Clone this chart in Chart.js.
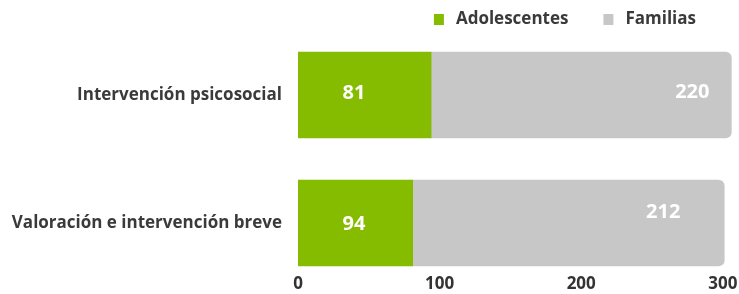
<!DOCTYPE html>
<html>
<head>
<meta charset="utf-8">
<script src="https://cdn.jsdelivr.net/npm/chart.js@4/dist/chart.umd.min.js"></script>
<style>
  html, body { margin: 0; background: #fff; }
</style>
</head>
<body>
<canvas id="chart" width="739" height="294"></canvas>
<script>
const categories = ['Intervención psicosocial', 'Valoración e intervención breve'];
const seriesNames = ['Adolescentes', 'Familias'];
const adolescentes = [94, 81];
const familias = [212, 220];
// printed numbers, as they appear in the original (they don't follow the bar lengths)
const adolescentesLabels = ['81', '94'];
const familiasLabels = ['220', '212'];
const tickValues = [0, 100, 200, 300];

const GREEN = '#85bc00';
const GREY = '#c7c7c7';
const TEXT = '#3a3a3a';
const FONT = 'Open Sans';

Chart.defaults.font.family = FONT;

// numbers written inside the bars
const barLabels = {
  id: 'barLabels',
  afterDatasetsDraw(chart, args, opts) {
    const ctx = chart.ctx;
    ctx.save();
    ctx.font = 'bold 20px ' + FONT;
    ctx.fillStyle = '#fff';
    ctx.textAlign = 'center';
    ctx.textBaseline = 'middle';
    opts.texts.forEach((texts, i) => {
      const nudge = opts.nudge[i];
      chart.getDatasetMeta(i).data.forEach((bar, j) => {
        const x = (nudge.from === 'base' ? bar.base : bar.x) + nudge.dx[j];
        ctx.fillText(texts[j], x, bar.y + nudge.dy[j]);
      });
    });
    ctx.restore();
  }
};

// small legend in the top right
const topLegend = {
  id: 'topLegend',
  afterDraw(chart, args, opts) {
    const ctx = chart.ctx;
    ctx.save();
    ctx.font = 'bold 17px ' + FONT;
    ctx.textBaseline = 'middle';
    const items = chart.data.datasets.map(d => ({ text: d.label, color: d.backgroundColor, w: ctx.measureText(d.label).width }));
    const total = items.reduce((s, it) => s + opts.box + opts.gap + it.w, 0) + opts.spacing * (items.length - 1);
    let x = opts.right - total;
    items.forEach(it => {
      ctx.fillStyle = it.color;
      ctx.fillRect(x, opts.y - opts.box / 2, opts.box, opts.box + 1);
      x += opts.box + opts.gap;
      ctx.fillStyle = TEXT;
      ctx.fillText(it.text, x, opts.y);
      x += it.w + opts.spacing;
    });
    ctx.restore();
  }
};

new Chart(document.getElementById('chart'), {
  type: 'bar',
  data: {
    labels: categories,
    datasets: [
      { label: seriesNames[0], data: adolescentes, backgroundColor: GREEN, barThickness: 86, borderRadius: 0 },
      { label: seriesNames[1], data: familias, backgroundColor: GREY, barThickness: 86, borderRadius: 6, borderSkipped: 'start' }
    ]
  },
  options: {
    indexAxis: 'y',
    responsive: false,
    animation: false,
    layout: { padding: { top: 31, right: 2, left: 0, bottom: 0 } },
    plugins: {
      legend: { display: false },
      tooltip: { enabled: false },
      barLabels: {
        texts: [adolescentesLabels, familiasLabels],
        nudge: [
          { from: 'base', dx: [56, 56], dy: [-2, 1] },
          { from: 'end', dx: [-39, -61], dy: [-3, -11] }
        ]
      },
      topLegend: { right: 696, y: 19, box: 10, gap: 12, spacing: 35 }
    },
    scales: {
      x: {
        stacked: true,
        min: 0,
        max: 310,
        grid: { display: false, drawTicks: false },
        border: { display: false },
        afterBuildTicks: s => { s.ticks = tickValues.map(v => ({ value: v })); },
        afterFit: s => { s.height = 7; s.paddingLeft = 0; s.paddingRight = 0; },
        // mirror only switches off the label clipping here, so the numbers can sit over the band
        ticks: { mirror: true, padding: -7, color: '#333', font: { size: 17, weight: 'bold' } }
      },
      y: {
        stacked: true,
        grid: { display: false, drawTicks: false },
        border: { display: false },
        afterFit: s => { s.width = 298; s.paddingTop = 0; s.paddingBottom = 0; },
        ticks: { padding: 16, color: TEXT, font: { size: 17, weight: 'bold' } }
      }
    }
  },
  plugins: [barLabels, topLegend]
});
</script>
</body>
</html>
